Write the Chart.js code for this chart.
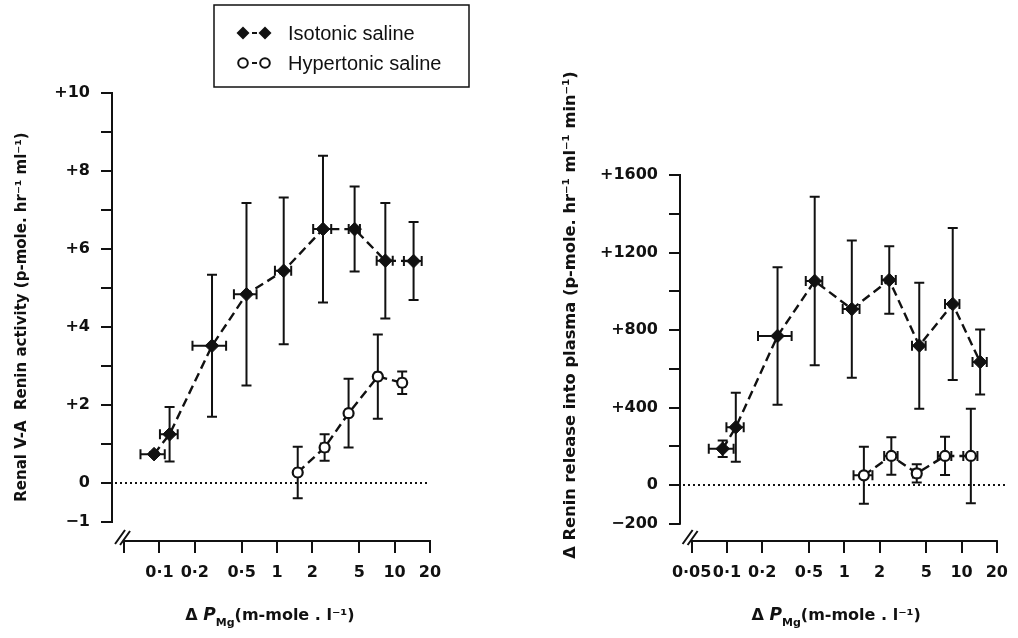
<!DOCTYPE html>
<html>
<head>
<meta charset="utf-8">
<script src="https://cdn.jsdelivr.net/npm/chart.js@4.4.0/dist/chart.umd.min.js"></script>
<style>
  body { margin: 0; background: #fff; }
  #wrap { position: relative; width: 1018px; height: 638px; }
  .panel { position: absolute; top: 0; width: 509px; height: 638px; }
</style>
</head>
<body>
<div id="wrap">
  <div class="panel" style="left:0"><canvas id="leftChart" width="509" height="638"></canvas></div>
  <div class="panel" style="left:509px"><canvas id="rightChart" width="509" height="638"></canvas></div>
</div>
<script>
// x axis (log) ticks, shared by both panels
const xTickValues = [0.05, 0.1, 0.2, 0.5, 1, 2, 5, 10, 20];
const leftXTickLabels = ["", "0·1", "0·2", "0·5", "1", "2", "5", "10", "20"];
const rightXTickLabels = ["0·05", "0·1", "0·2", "0·5", "1", "2", "5", "10", "20"];

// left panel: renal V-A renin activity
const leftYTickValues = [-1, 0, 1, 2, 3, 4, 5, 6, 7, 8, 9, 10];
const leftYTickLabels = ["−1", "0", "", "+2", "", "+4", "", "+6", "", "+8", "", "+10"];
const leftIsoX = [0.09, 0.122, 0.28, 0.55, 1.14, 2.46, 4.57, 8.34, 14.5];
const leftIsoXErr = [0.021, 0.021, 0.089, 0.12, 0.18, 0.43, 0.5, 1.3, 2.5];
const leftIsoY = [0.74, 1.25, 3.52, 4.84, 5.44, 6.51, 6.51, 5.7, 5.69];
const leftIsoYErr = [0.05, 0.7, 1.82, 2.34, 1.88, 1.88, 1.09, 1.48, 1.0];
const leftHypX = [1.5, 2.54, 4.06, 7.2, 11.6];
const leftHypXErr = [0.07, 0.18, 0.22, 0.4, 0.7];
const leftHypY = [0.27, 0.91, 1.79, 2.73, 2.57];
const leftHypYErr = [0.66, 0.34, 0.88, 1.08, 0.29];

// right panel: renin release into plasma
const rightYTickValues = [-200, 0, 200, 400, 600, 800, 1000, 1200, 1400, 1600];
const rightYTickLabels = ["−200", "0", "", "+400", "", "+800", "", "+1200", "", "+1600"];
const rightIsoX = [0.092, 0.119, 0.27, 0.56, 1.16, 2.42, 4.36, 8.41, 14.4];
const rightIsoXErr = [0.022, 0.02, 0.086, 0.09, 0.19, 0.33, 0.58, 1.18, 2.0];
const rightIsoY = [187, 298, 769, 1053, 908, 1058, 719, 934, 635];
const rightIsoYErr = [43, 178, 355, 435, 354, 174, 325, 392, 168];
const rightHypX = [1.47, 2.52, 4.15, 7.23, 12.0];
const rightHypXErr = [0.27, 0.33, 0.3, 0.95, 1.65];
const rightHypY = [50, 150, 60, 150, 150];
const rightHypYErr = [147, 97, 47, 99, 244];

const INK = "#111";
const TICK_FONT = { family: "'DejaVu Sans', sans-serif", size: 16, weight: "bold" };

const toPoints = (xs, xErr, ys, yErr) =>
  xs.map((x, i) => ({ x: x, y: ys[i], ex: xErr[i], ey: yErr[i] }));

const errorBars = {
  id: "errorBars",
  beforeDatasetsDraw(chart) {
    const { ctx } = chart;
    const xs = chart.scales.x;
    const ys = chart.scales.y;
    const cap = 5;
    ctx.save();
    ctx.strokeStyle = INK;
    ctx.lineWidth = 2;
    chart.data.datasets.forEach((ds) => {
      ds.data.forEach((p) => {
        const px = xs.getPixelForValue(p.x);
        const py = ys.getPixelForValue(p.y);
        const top = ys.getPixelForValue(p.y + p.ey);
        const bot = ys.getPixelForValue(p.y - p.ey);
        const l = xs.getPixelForValue(p.x - p.ex);
        const r = xs.getPixelForValue(p.x + p.ex);
        ctx.beginPath();
        ctx.moveTo(px, top); ctx.lineTo(px, bot);
        ctx.moveTo(px - cap, top); ctx.lineTo(px + cap, top);
        ctx.moveTo(px - cap, bot); ctx.lineTo(px + cap, bot);
        ctx.moveTo(l, py); ctx.lineTo(r, py);
        ctx.moveTo(l, py - cap); ctx.lineTo(l, py + cap);
        ctx.moveTo(r, py - cap); ctx.lineTo(r, py + cap);
        ctx.stroke();
      });
    });
    ctx.restore();
  },
};

// axis lines, break marks, zero line, titles and the legend box
const decor = {
  id: "decor",
  afterDraw(chart, args, opts) {
    const { ctx, chartArea } = chart;
    const xs = chart.scales.x;
    const ys = chart.scales.y;
    const x0 = xs.getPixelForValue(xTickValues[0]);
    const x1 = xs.getPixelForValue(xTickValues[xTickValues.length - 1]);
    const yVals = opts.yTicks;
    const yTop = ys.getPixelForValue(yVals[yVals.length - 1]);
    const yBot = ys.getPixelForValue(yVals[0]);
    const zero = ys.getPixelForValue(0);
    ctx.save();
    ctx.strokeStyle = INK;
    ctx.fillStyle = INK;
    ctx.lineWidth = 2;
    ctx.lineCap = "square";
    ctx.beginPath();
    ctx.moveTo(chartArea.left, yTop);
    ctx.lineTo(chartArea.left, yBot);
    ctx.moveTo(x0, chartArea.bottom);
    ctx.lineTo(x1, chartArea.bottom);
    ctx.stroke();

    // axis break "//"
    ctx.lineCap = "butt";
    ctx.beginPath();
    ctx.moveTo(x0 - 9, chartArea.bottom + 3);
    ctx.lineTo(x0 + 1, chartArea.bottom - 11);
    ctx.moveTo(x0 - 4, chartArea.bottom + 4);
    ctx.lineTo(x0 + 6, chartArea.bottom - 10);
    ctx.stroke();

    // dotted zero line
    ctx.setLineDash([2, 3]);
    ctx.beginPath();
    ctx.moveTo(chartArea.left + 3, zero);
    ctx.lineTo(x1 + opts.zeroExtra, zero);
    ctx.stroke();
    ctx.setLineDash([]);

    // y title
    ctx.font = "bold " + opts.yTitleSize + "px 'DejaVu Sans', sans-serif";
    ctx.textAlign = "center";
    ctx.textBaseline = "middle";
    ctx.save();
    ctx.translate(opts.yTitleX, opts.yTitleY);
    ctx.rotate(-Math.PI / 2);
    ctx.fillText(opts.yTitle, 0, 0);
    ctx.restore();

    // x title with italic P and subscript Mg
    const big = "bold 16px 'DejaVu Sans', sans-serif";
    const ital = "italic bold 17px 'DejaVu Sans', sans-serif";
    const small = "bold 11px 'DejaVu Sans', sans-serif";
    const parts = [
      ["Δ ", big, 0],
      ["P", ital, 0],
      ["Mg", small, 6],
      ["(m-mole . l⁻¹)", big, 0],
    ];
    let w = 0;
    parts.forEach((p) => { ctx.font = p[1]; w += ctx.measureText(p[0]).width; });
    let cx = (x0 + x1) / 2 + opts.xTitleShift - w / 2;
    ctx.textAlign = "left";
    ctx.textBaseline = "alphabetic";
    parts.forEach((p) => {
      ctx.font = p[1];
      ctx.fillText(p[0], cx, 620 + p[2]);
      cx += ctx.measureText(p[0]).width;
    });

    if (opts.legend) {
      ctx.lineWidth = 1.5;
      ctx.strokeRect(214, 5, 255, 82);
      const rows = [
        { y: 33, text: "Isotonic saline", filled: true },
        { y: 63, text: "Hypertonic saline", filled: false },
      ];
      rows.forEach((row) => {
        ctx.lineWidth = 2;
        ctx.setLineDash([5, 4]);
        ctx.beginPath();
        ctx.moveTo(243, row.y);
        ctx.lineTo(265, row.y);
        ctx.stroke();
        ctx.setLineDash([]);
        [243, 265].forEach((mx) => {
          ctx.beginPath();
          if (row.filled) {
            ctx.moveTo(mx, row.y - 6.5);
            ctx.lineTo(mx + 6.5, row.y);
            ctx.lineTo(mx, row.y + 6.5);
            ctx.lineTo(mx - 6.5, row.y);
            ctx.closePath();
            ctx.fill();
          } else {
            ctx.arc(mx, row.y, 4.8, 0, Math.PI * 2);
            ctx.fillStyle = "#fff";
            ctx.fill();
            ctx.stroke();
            ctx.fillStyle = INK;
          }
        });
        ctx.font = "20px 'Liberation Sans', Arial, sans-serif";
        ctx.textBaseline = "middle";
        ctx.fillText(row.text, 288, row.y + 1);
      });
    }
    ctx.restore();
  },
};

const makePanel = (canvasId, p) => {
  const isoStyle = {
    showLine: true,
    borderColor: INK,
    borderWidth: 2.4,
    borderDash: [9, 5],
    pointStyle: "rectRot",
    pointRadius: 6.8,
    pointBackgroundColor: INK,
    pointBorderColor: INK,
    pointBorderWidth: 1,
  };
  const hypStyle = {
    showLine: true,
    borderColor: INK,
    borderWidth: 2.4,
    borderDash: [9, 5],
    pointStyle: "circle",
    pointRadius: 5,
    pointBackgroundColor: "#fff",
    pointBorderColor: INK,
    pointBorderWidth: 2.2,
  };

  new Chart(document.getElementById(canvasId), {
    type: "scatter",
    data: {
      datasets: [
        Object.assign({ label: "Isotonic saline", data: p.iso }, isoStyle),
        Object.assign({ label: "Hypertonic saline", data: p.hyp }, hypStyle),
      ],
    },
    options: {
      responsive: false,
      animation: false,
      devicePixelRatio: 1,
      layout: { padding: { left: 0, top: p.top, right: p.right, bottom: 0 } },
      plugins: {
        legend: { display: false },
        tooltip: { enabled: false },
        decor: p.decor,
      },
      scales: {
        x: {
          type: "logarithmic",
          min: p.xMin,
          max: 20,
          afterBuildTicks: (scale) => {
            scale.ticks = xTickValues.map((v) => ({ value: v }));
          },
          afterFit: (scale) => {
            scale.height = 97;
          },
          ticks: {
            autoSkip: false,
            maxRotation: 0,
            color: INK,
            font: TICK_FONT,
            padding: 10,
            callback: (value, index) => p.xLabels[index],
          },
          grid: { drawOnChartArea: false, color: INK, lineWidth: 2, tickLength: 12 },
          border: { display: false },
        },
        y: {
          type: "linear",
          min: p.yMin,
          max: p.yMax,
          afterBuildTicks: (scale) => {
            scale.ticks = p.yTicks.map((v) => ({ value: v }));
          },
          afterFit: (scale) => {
            scale.width = p.yWidth;
          },
          ticks: {
            autoSkip: false,
            color: INK,
            font: TICK_FONT,
            padding: 11,
            callback: (value, index) => p.yLabels[index],
          },
          grid: { drawOnChartArea: false, color: INK, lineWidth: 2, tickLength: 11 },
          border: { display: false },
        },
      },
    },
    plugins: [errorBars, decor],
  });
};

makePanel("leftChart", {
  iso: toPoints(leftIsoX, leftIsoXErr, leftIsoY, leftIsoYErr),
  hyp: toPoints(leftHypX, leftHypXErr, leftHypY, leftHypYErr),
  xLabels: leftXTickLabels,
  yTicks: leftYTickValues,
  yLabels: leftYTickLabels,
  xMin: 0.0395,
  yMin: -1.487,
  yMax: 10,
  top: 93,
  right: 79,
  yWidth: 112,
  decor: {
    yTicks: leftYTickValues,
    yTitle: "Renal V-A  Renin activity (p-mole. hr⁻¹ ml⁻¹)",
    yTitleSize: 15,
    yTitleX: 22,
    yTitleY: 317,
    xTitleShift: -7,
    zeroExtra: 0,
    legend: true,
  },
});

makePanel("rightChart", {
  iso: toPoints(rightIsoX, rightIsoXErr, rightIsoY, rightIsoYErr),
  hyp: toPoints(rightHypX, rightHypXErr, rightHypY, rightHypYErr),
  xLabels: rightXTickLabels,
  yTicks: rightYTickValues,
  yLabels: rightYTickLabels,
  xMin: 0.0398,
  yMin: -289,
  yMax: 1600,
  top: 175,
  right: 21,
  yWidth: 171,
  decor: {
    yTicks: rightYTickValues,
    yTitle: "Δ Renin release into plasma (p-mole. hr⁻¹ ml⁻¹ min⁻¹)",
    yTitleSize: 16.3,
    yTitleX: 62,
    yTitleY: 315,
    xTitleShift: -8,
    zeroExtra: 10,
    legend: false,
  },
});
</script>
</body>
</html>
